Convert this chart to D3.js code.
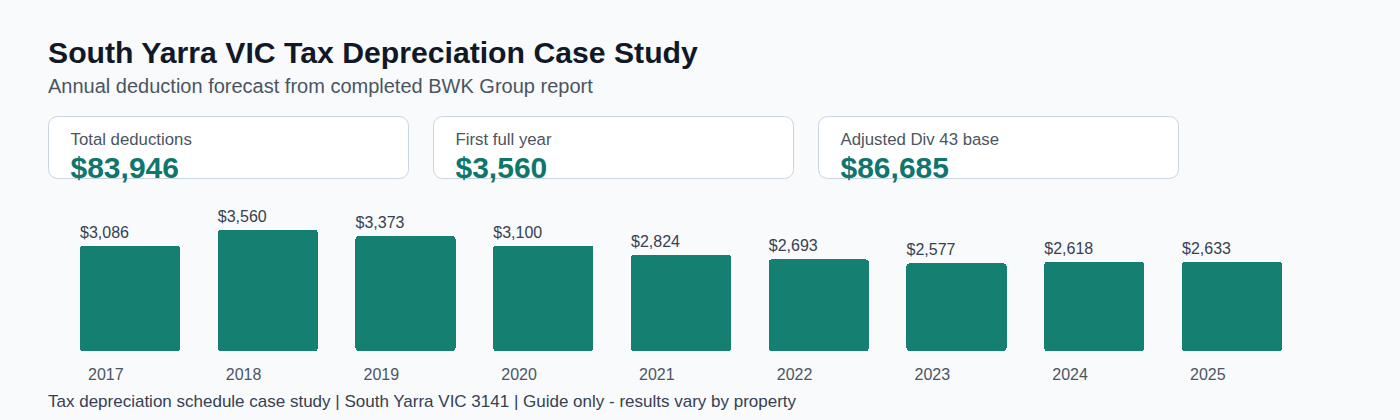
<!DOCTYPE html>
<html>
<head>
<meta charset="utf-8">
<script src="https://cdn.jsdelivr.net/npm/d3@7"></script>
<style>
  html, body { margin: 0; padding: 0; background: #f8fafc; }
  svg text { font-family: "Liberation Sans", Arial, Helvetica, sans-serif; }
</style>
</head>
<body>
<div id="chart"></div>
<script>
// 資料
const years = ["2017", "2018", "2019", "2020", "2021", "2022", "2023", "2024", "2025"];
const deductions = [3086, 3560, 3373, 3100, 2824, 2693, 2577, 2618, 2633];
const cardLabels = ["Total deductions", "First full year", "Adjusted Div 43 base"];
const cardValues = [83946, 3560, 86685];

const svg_width = 1400;
const svg_height = 420;
const fmt = d3.format("$,");

const svg = d3.select("#chart").append("svg")
  .attr("width", svg_width).attr("height", svg_height);

svg.append("rect").attr("width", svg_width).attr("height", svg_height).attr("fill", "#f8fafc");

// 標題
svg.append("text").attr("x", 48).attr("y", 63)
  .text("South Yarra VIC Tax Depreciation Case Study")
  .style("font-size", "30.2px").style("font-weight", "bold").style("fill", "#111827");
svg.append("text").attr("x", 48).attr("y", 93)
  .text("Annual deduction forecast from completed BWK Group report")
  .style("font-size", "20px").style("fill", "#4b5563");

// 卡片
const cards = svg.selectAll(".card")
  .data(cardLabels.map((l, i) => ({label: l, value: cardValues[i]})))
  .enter().append("g").attr("class", "card")
  .attr("transform", (d, i) => `translate(${48.5 + i * 385},116.5)`);
cards.append("rect").attr("width", 360).attr("height", 62).attr("rx", 9)
  .attr("fill", "#ffffff").attr("stroke", "#cbd5e1");
cards.append("text").attr("x", 22).attr("y", 28).text(d => d.label)
  .style("font-size", "16.8px").style("fill", "#4b5563");
cards.append("text").attr("x", 22).attr("y", 61).text(d => fmt(d.value))
  .style("font-size", "30px").style("font-weight", "bold").style("fill", "#0f766e");

// 長條圖
const baseline = 351;
const xScale = d3.scaleBand().domain(years).range([80, 1282]).paddingInner(0.274).paddingOuter(0);
const yScale = d3.scaleLinear().domain([0, 3560]).range([baseline, 230]);

const g = svg.append("g");
g.selectAll(".bar").data(deductions).enter().append("rect")
  .attr("class", "bar")
  .attr("x", (d, i) => xScale(years[i]))
  .attr("y", d => yScale(d))
  .attr("width", xScale.bandwidth())
  .attr("height", d => baseline - yScale(d))
  .attr("rx", 3)
  .attr("shape-rendering", "crispEdges")
  .style("fill", "#157f71");

g.selectAll(".val").data(deductions).enter().append("text")
  .attr("x", (d, i) => xScale(years[i]))
  .attr("y", d => yScale(d) - 8)
  .text(d => fmt(d))
  .style("font-size", "16px").style("fill", "#374151");

g.selectAll(".yr").data(years).enter().append("text")
  .attr("x", d => xScale(d) + 8)
  .attr("y", 380)
  .text(d => d)
  .style("font-size", "16px").style("fill", "#4b5563");

svg.append("text").attr("x", 48).attr("y", 407)
  .text("Tax depreciation schedule case study | South Yarra VIC 3141 | Guide only - results vary by property")
  .style("font-size", "17px").style("fill", "#374151");
</script>
</body>
</html>
